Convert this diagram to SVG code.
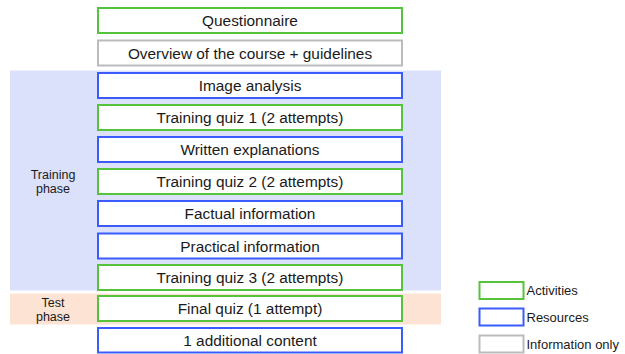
<svg xmlns="http://www.w3.org/2000/svg" width="625" height="354" viewBox="0 0 625 354">
<style>
.box{fill:#fff;stroke-width:2}
.act{stroke:#55c43c}
.res{stroke:#3a5cff}
.inf{stroke:#bbbbbb}
.t{font-family:"Liberation Sans",Arial,sans-serif;font-size:15.4px;fill:#1a1a1a;text-anchor:middle}
.s{font-family:"Liberation Sans",Arial,sans-serif;font-size:12.5px;fill:#1a1a1a;text-anchor:middle}
.l{font-family:"Liberation Sans",Arial,sans-serif;font-size:13px;fill:#1a1a1a}
</style>
<rect width="625" height="354" fill="#fff"/>
<g id="training-phase">
<rect x="10" y="70.5" width="431" height="220" fill="#dbe1fb"/>
<text class="s" x="53" y="179">Training</text>
<text class="s" x="53" y="193">phase</text>
</g>
<g id="test-phase">
<rect x="10" y="293.5" width="431" height="31" fill="#fce3d3"/>
<text class="s" x="53" y="306.5">Test</text>
<text class="s" x="53" y="321">phase</text>
</g>
<g id="questionnaire"><rect class="box act" x="98" y="8" width="304" height="25"/><text class="t" x="250" y="26">Questionnaire</text></g>
<g id="overview"><rect class="box inf" x="98" y="40.5" width="304" height="25"/><text class="t" x="250" y="58.5">Overview of the course + guidelines</text></g>
<g id="image-analysis"><rect class="box res" x="98" y="73" width="304" height="25"/><text class="t" x="250" y="91">Image analysis</text></g>
<g id="quiz1"><rect class="box act" x="98" y="105" width="304" height="25"/><text class="t" x="250" y="123">Training quiz 1 (2 attempts)</text></g>
<g id="written"><rect class="box res" x="98" y="137" width="304" height="25"/><text class="t" x="250" y="155">Written explanations</text></g>
<g id="quiz2"><rect class="box act" x="98" y="169" width="304" height="25"/><text class="t" x="250" y="187">Training quiz 2 (2 attempts)</text></g>
<g id="factual"><rect class="box res" x="98" y="201" width="304" height="25"/><text class="t" x="250" y="219">Factual information</text></g>
<g id="practical"><rect class="box res" x="98" y="233.5" width="304" height="25"/><text class="t" x="250" y="251.5">Practical information</text></g>
<g id="quiz3"><rect class="box act" x="98" y="265" width="304" height="25"/><text class="t" x="250" y="283">Training quiz 3 (2 attempts)</text></g>
<g id="final"><rect class="box act" x="98" y="296" width="304" height="25"/><text class="t" x="250" y="314">Final quiz (1 attempt)</text></g>
<g id="additional"><rect class="box res" x="98" y="328" width="304" height="24.5"/><text class="t" x="250" y="346">1 additional content</text></g>
<g id="legend">
<rect class="box act" x="479.5" y="282" width="44" height="17"/><text class="l" x="526.5" y="295">Activities</text>
<rect class="box res" x="479.5" y="308.5" width="44" height="17"/><text class="l" x="526.5" y="322">Resources</text>
<rect class="box inf" x="479.5" y="335.5" width="44" height="17"/><text class="l" x="526.5" y="349">Information only</text>
</g>
<g id="connectors"></g>
</svg>
